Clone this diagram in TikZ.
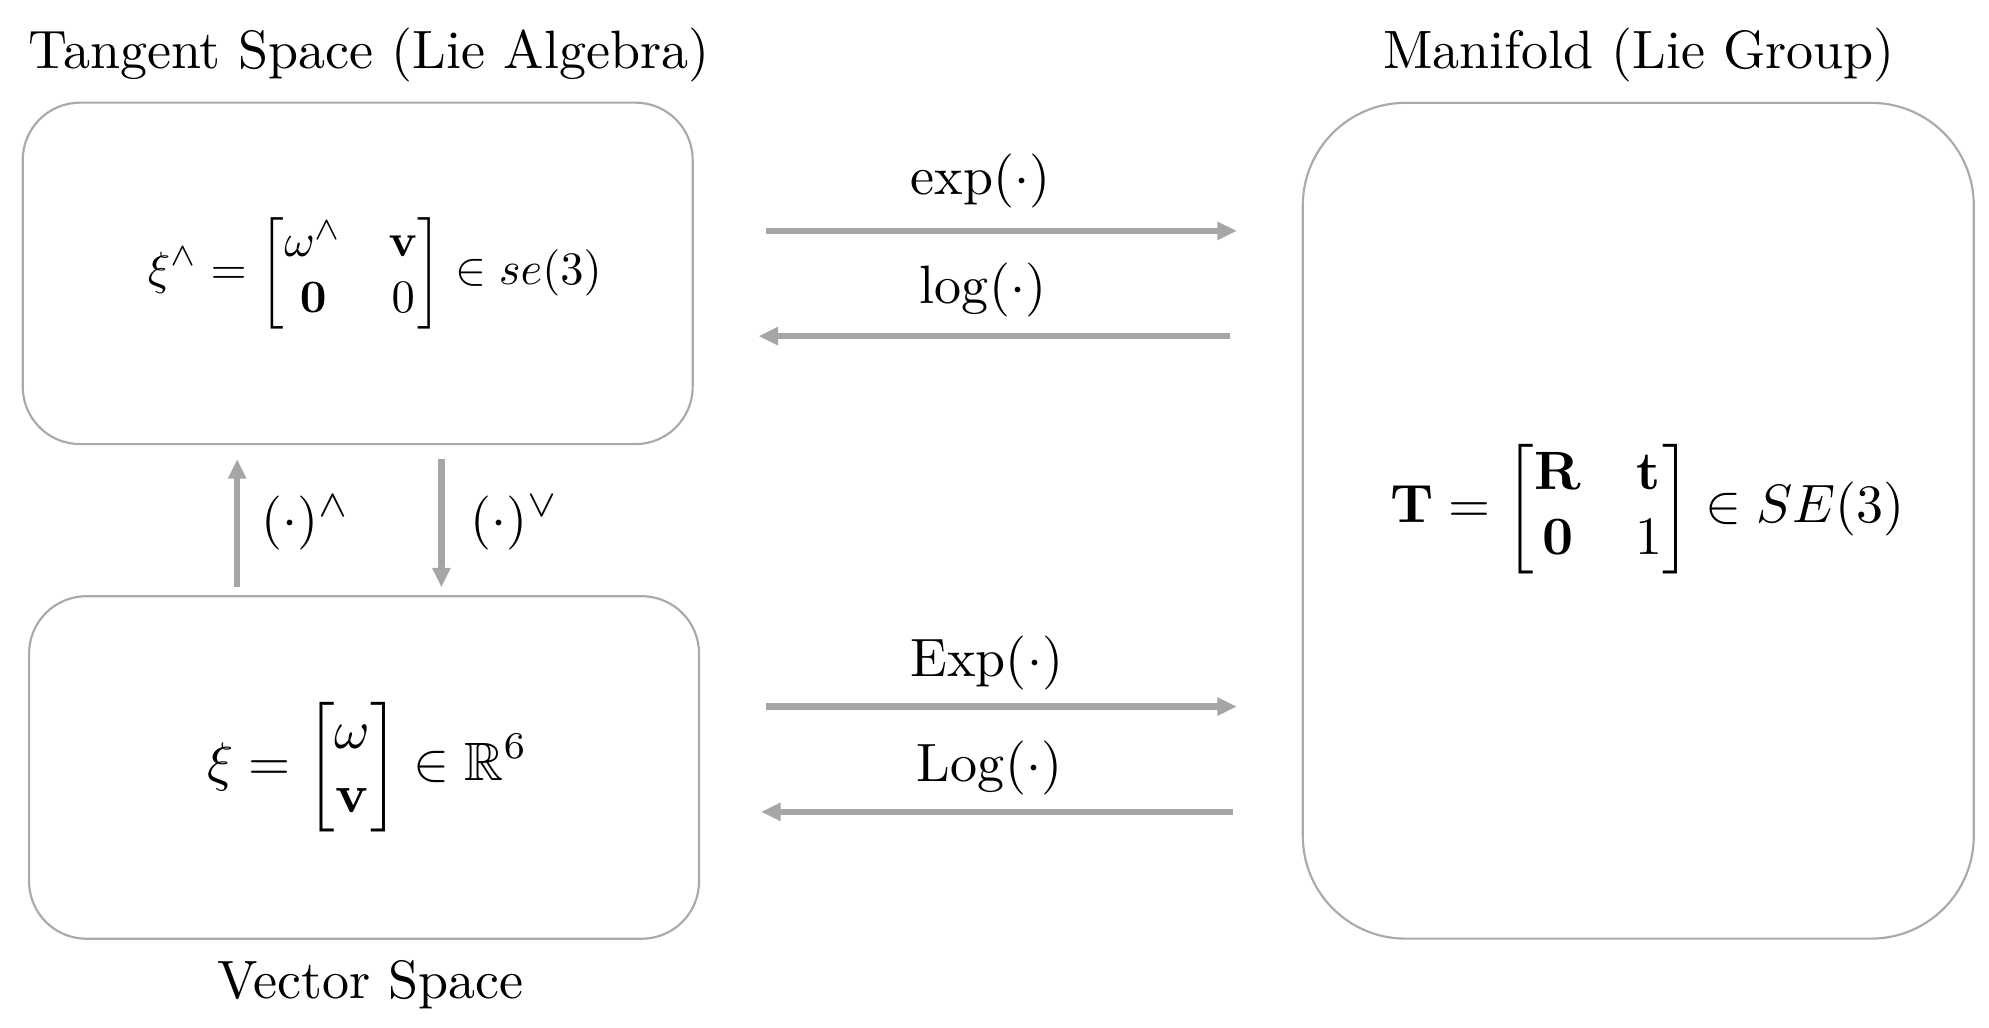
\documentclass[tikz,border=0pt]{standalone}
\usepackage{amsmath,amssymb,graphicx}
\usetikzlibrary{arrows.meta}
\definecolor{arrgray}{HTML}{A6A6A6}
\definecolor{boxgray}{HTML}{AAAAAA}
\begin{document}
\begin{tikzpicture}[x=0.2348pt,y=-0.2348pt,
  spacebox/.style={draw=boxgray,line width=0.4pt,inner sep=0pt},
  maparrow/.style={draw=arrgray,line width=1.2pt,-{Triangle[length=3.6pt,width=3.2pt]}},
  titletext/.style={anchor=base,inner sep=0pt},
  lbl/.style={anchor=base,inner sep=0pt},
  formula/.style={inner sep=0pt}]
\useasboundingbox (0,0) rectangle (1568,810);
% boxes
\node[spacebox,rounded corners=10.6pt,minimum width=124pt,minimum height=63.2pt] (tan) at (282,215.5) {};
\node[spacebox,rounded corners=10.6pt,minimum width=124pt,minimum height=63.4pt] (vec) at (287,605) {};
\node[spacebox,rounded corners=19pt,minimum width=124.2pt,minimum height=154.7pt] (man) at (1291.5,410.5) {};
% titles
\node[titletext] (tantitle) at (291,54) {Tangent Space (Lie Algebra)};
\node[titletext] (mantitle) at (1292,54) {Manifold (Lie Group)};
\node[titletext] (vectitle) at (292,787) {Vector Space};
% formulas
\node[formula] (tanf) at (295.5,215.5) {\scalebox{0.86}{$\displaystyle \xi^\wedge = \begin{bmatrix}\omega^\wedge & \mathbf{v}\\ \mathbf{0} & 0\end{bmatrix} \in se(3)$}};
\node[formula] (vecf) at (290,605) {$\displaystyle \xi = \begin{bmatrix}\omega\\ \mathbf{v}\end{bmatrix} \in \mathbb{R}^6$};
\node[formula] (manf) at (1299,401) {$\displaystyle \mathbf{T} = \begin{bmatrix}\mathbf{R} & \mathbf{t}\\ \mathbf{0} & 1\end{bmatrix} \in SE(3)$};
% arrow end points
\coordinate (expS) at (604,182); \coordinate (expE) at (975,182);
\coordinate (logS) at (970,265); \coordinate (logE) at (598,265);
\coordinate (ExpS) at (604,557); \coordinate (ExpE) at (975,557);
\coordinate (LogS) at (972,640); \coordinate (LogE) at (600,640);
\coordinate (hatS) at (187,463); \coordinate (hatE) at (187,362);
\coordinate (veeS) at (348,362); \coordinate (veeE) at (348,463);
% arrows
\draw[maparrow] (expS) -- (expE);
\draw[maparrow] (logS) -- (logE);
\draw[maparrow] (ExpS) -- (ExpE);
\draw[maparrow] (LogS) -- (LogE);
\draw[maparrow] (hatS) -- (hatE);
\draw[maparrow] (veeS) -- (veeE);
% labels
\node[lbl] (expl) at (773,153) {$\exp(\cdot)$};
\node[lbl] (logl) at (775,239) {$\log(\cdot)$};
\node[lbl] (Expl) at (778,533) {$\mathrm{Exp}(\cdot)$};
\node[lbl] (Logl) at (780,616) {$\mathrm{Log}(\cdot)$};
\node[lbl,anchor=base west] (hatl) at (205,423) {$(\cdot)^\wedge$};
\node[lbl,anchor=base west] (veel) at (370,423) {$(\cdot)^\vee$};
\end{tikzpicture}
\end{document}
